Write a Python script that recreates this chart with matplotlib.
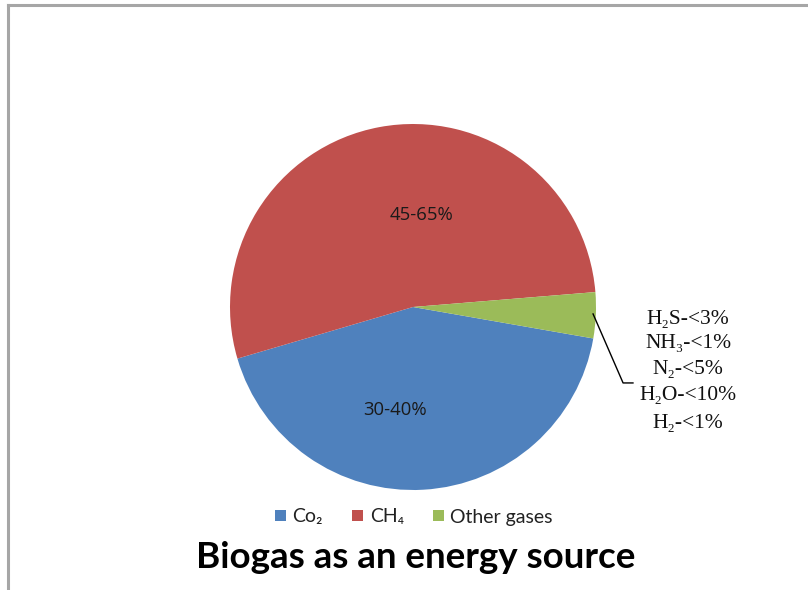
import matplotlib
matplotlib.use("Agg")
import matplotlib.pyplot as plt
from matplotlib.lines import Line2D

# Data
categories = ["Co\u2082", "CH\u2084", "Other gases"]
values = [42.7, 53.25, 4.05]
colors = ["#4F81BD", "#C0504D", "#9BBB59"]
slice_labels = ["30-40%", "45-65%"]
other_lines = ["H\u2082S-<3%", "NH\u2083-<1%", "N\u2082-<5%", "H\u2082O-<10%", "H\u2082-<1%"]
title = "Biogas as an energy source"

W, H = 808, 590
fig = plt.figure(figsize=(W / 100, H / 100), dpi=100)

# chart border (top and left visible)
fig.add_artist(Line2D([8 / W, 8 / W], [0, 1 - 5 / H], color="#A6A6A6", lw=2.2))
fig.add_artist(Line2D([8 / W, 1], [1 - 5 / H, 1 - 5 / H], color="#A6A6A6", lw=2.2))

cx, cy, r = 413, 590 - 307, 183
ax = fig.add_axes([(cx - r) / W, (cy - r) / H, 2 * r / W, 2 * r / H])
wedges, _ = ax.pie(values, colors=colors, startangle=-9.9, counterclock=False,
                   radius=1, wedgeprops=dict(linewidth=0))
ax.set_xlim(-1, 1)
ax.set_ylim(-1, 1)
ax.set_aspect("equal")
ax.axis("off")

lab_font = dict(family=["Open Sans", "DejaVu Sans"], fontsize=13.3, color="#1a1a1a",
                ha="center", va="center")
ax.text(-0.098, -0.563, slice_labels[0], **lab_font)
ax.text(0.044, 0.503, slice_labels[1], **lab_font)

# leader line for other gases
ax.plot([0.984, 1.148, 1.202], [-0.038, -0.415, -0.415], color="#000000", lw=1.0,
        clip_on=False)
ys = [319, 344, 369, 396, 423]
for t, yp in zip(other_lines, ys):
    ax.text((688 - 413) / r, (307 - yp) / r, t, family=["Liberation Serif", "DejaVu Serif"],
            fontsize=15.5, ha="center", va="center", color="#111111", clip_on=False)

leg = fig.legend(wedges, categories, loc="center", bbox_to_anchor=(414 / W, 1 - 517 / H),
                 ncol=3, frameon=False, prop=dict(family=["Lato", "DejaVu Sans"], size=14),
                 handlelength=0.55, handleheight=0.55, handletextpad=0.35, columnspacing=1.5,
                 labelcolor="#222222")

fig.text(416 / W, 1 - 557 / H, title, ha="center", va="center",
         family=["Lato", "DejaVu Sans"], fontweight="bold", fontsize=26.5, color="#000000")

fig.savefig("out.png", dpi=100)
